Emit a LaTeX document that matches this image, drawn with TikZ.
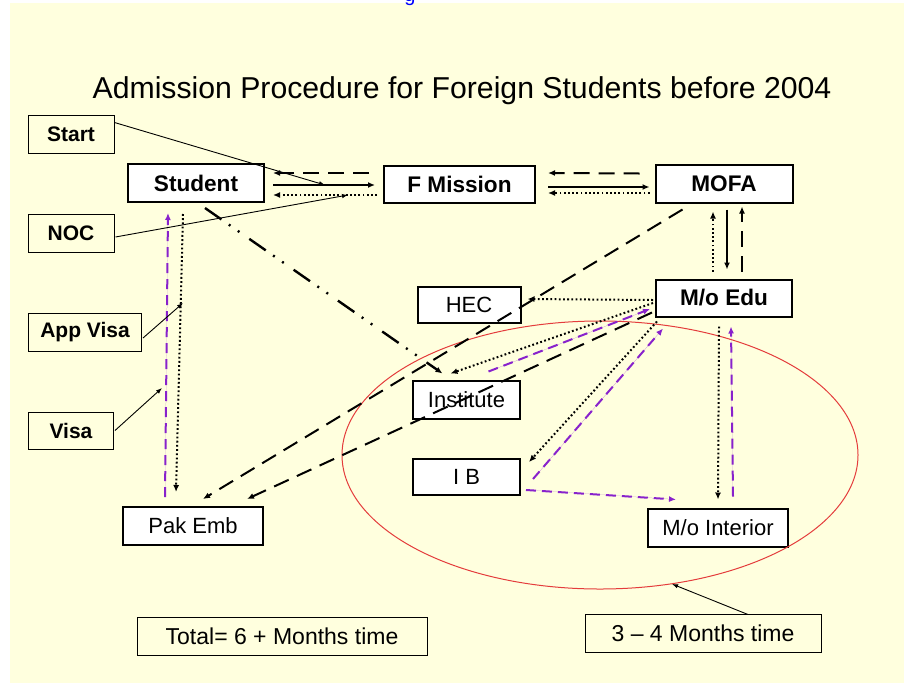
\documentclass[tikz,border=0pt]{standalone}
\usepackage{fontspec}
\setmainfont{Liberation Sans}
\usetikzlibrary{arrows.meta,calc}
\definecolor{bgyellow}{RGB}{255,255,222}
\definecolor{vpurple}{RGB}{136,34,204}
\definecolor{ered}{RGB}{228,60,60}
\definecolor{linkblue}{RGB}{0,0,255}
\begin{document}
\begin{tikzpicture}[x=1pt,y=-1pt,
  box/.style={draw, line width=2pt, fill=white, inner sep=0pt, font=\fontsize{22}{24}\selectfont},
  boxb/.style={box, font=\fontsize{22.6}{24}\selectfont\bfseries},
  tag/.style={draw, line width=1pt, inner sep=0pt, font=\fontsize{21}{24}\selectfont\bfseries},
  tagr/.style={draw, line width=1pt, inner sep=0pt, font=\fontsize{23}{24}\selectfont},
  tip/.style={-{Latex[length=7pt,width=6pt]}},
  thintip/.style={-{Latex[length=6pt,width=4.5pt]}},
  bsolid/.style={line width=1.6pt, tip},
  bdash/.style={line width=2pt, dash pattern=on 16pt off 9pt, tip},
  bdot/.style={line width=2pt, dash pattern=on 1.8pt off 2.4pt, tip},
  pdash/.style={draw=vpurple, line width=2pt, dash pattern=on 10pt off 6pt, -{Latex[length=7pt,width=6pt]}, fill=vpurple},
  ddot/.style={line width=2.4pt, dash pattern=on 20pt off 9pt on 2pt off 9pt on 2pt off 12pt, tip},
  pointer/.style={line width=0.9pt, thintip}
]
\useasboundingbox (0,0) rectangle (904,683);
\fill[white] (0,0) rectangle (904,683);
\fill[bgyellow] (10,3) rectangle (904,683);

% cut-off link text at the top
\begin{scope}
  \clip (380,0) rectangle (440,6);
  \node[anchor=south, inner sep=0pt, text=linkblue, font=\fontsize{20}{22}\selectfont] (glink) at (410,6) {g};
\end{scope}

\node (title) at (462,91) {\fontsize{30.2}{32}\selectfont Admission Procedure for Foreign Students before 2004};

% boxes
\node[tag, minimum width=86pt, minimum height=38pt] (start) at (71,134) {Start};
\node[boxb, minimum width=136pt, minimum height=38pt] (st) at (196,183) {Student};
\node[boxb, minimum width=151pt, minimum height=37pt] (fm) at (459.5,184) {F Mission};
\node[boxb, minimum width=137pt, minimum height=38pt] (mofa) at (724,183.5) {MOFA};
\node[tag, minimum width=86pt, minimum height=38pt] (noc) at (71,233) {NOC};
\node[box, minimum width=103pt, minimum height=36pt] (hec) at (469,305) {HEC};
\node[boxb, minimum width=136pt, minimum height=37pt] (moe) at (724,298) {M/o Edu};
\node[tag, minimum width=113pt, minimum height=38pt] (appvisa) at (85,332) {App Visa};
\node[box, minimum width=107pt, minimum height=38pt] (inst) at (466.5,399.5) {Institute};
\node[tag, minimum width=85pt, minimum height=37pt] (visa) at (71,430.5) {Visa};
\node[box, minimum width=107pt, minimum height=36pt] (ib) at (466.5,477) {I B};
\node[box, minimum width=140pt, minimum height=38pt] (pak) at (193,526) {Pak Emb};
\node[box, minimum width=140pt, minimum height=38pt] (moi) at (718,527.5) {M/o Interior};
\node[tagr, minimum width=290pt, minimum height=38pt] (total) at (282,636) {Total= 6 + Months time};
\node[tagr, minimum width=236pt, minimum height=38pt] (m34) at (703,633) {3 -- 4 Months time};

% the red ellipse
\draw[ered, line width=1pt] (600,455) ellipse [x radius=258pt, y radius=134pt];

% free ends of the pointer lines
\coordinate (startpt) at (325,185);
\coordinate (nocpt) at (348,195);
\coordinate (apppt) at (183,303);
\coordinate (visapt) at (162,388);
\coordinate (ellpt) at (672,584);

% Student <-> F Mission
\draw[bdash] ($(fm.west)+(-14,-11)$) -- ($(st.east)+(8,-10)$);
\draw[bsolid] ($(st.east)+(8,2)$) -- ($(fm.west)+(-8,1)$);
\draw[bdot] ($(fm.west)+(-6,11)$) -- ($(st.east)+(8,12)$);

% F Mission <-> MOFA
\draw[bdash] ($(mofa.west)+(-15,-10)$) -- ($(fm.east)+(12,-11)$);
\draw[bsolid] ($(fm.east)+(12,3)$) -- ($(mofa.west)+(-5,3.5)$);
\draw[bdot] ($(mofa.west)+(-5,9.5)$) -- ($(fm.east)+(12,9)$);

% MOFA <-> M/o Edu
\draw[bdot] ($(moe.north)+(-11,-7)$) -- ($(mofa.south)+(-11,8)$);
\draw[bsolid] ($(mofa.south)+(3,6)$) -- ($(moe.north)+(3,-9)$);
\draw[bdash] ($(moe.north)+(18,-7)$) -- ($(mofa.south)+(18,3)$);

% to Pak Emb
\draw[bdash] ($(mofa.south west)+(28,6)$) -- ($(pak.north)+(10,-7)$);
\draw[bdash] ($(moe.south west)+(-3,-5)$) -- ($(pak.north)+(54,-7)$);

% Student -> Institute
\draw[ddot] ($(st.south)+(9,5)$) -- ($(inst.north)+(-24,-6)$);

% from M/o Edu
\draw[bdot] ($(moe.west)+(-2,2)$) -- ($(hec.east)+(6,-6)$);
\draw[bdot] ($(moe.west)+(-2,5)$) -- ($(inst.north)+(-16,-6)$);
\draw[bdot] ($(moe.south west)+(2,4)$) -- ($(ib.north east)+(8,4)$);
\draw[bdot] ($(moe.south)+(-5,9)$) -- ($(moi.north)+(0,-8)$);

% purple returns
\draw[pdash] ($(inst.north)+(22,-8)$) -- ($(moe.west)+(-5,11)$);
\draw[pdash] ($(ib.east)+(12,2)$) -- ($(moe.south west)+(8,11)$);
\draw[pdash] ($(ib.south east)+(5,-6)$) -- ($(moi.north west)+(29,-8)$);
\draw[pdash] ($(moi.north)+(15,-11)$) -- ($(moe.south)+(7,9)$);

% Student <-> Pak Emb
\draw[pdash] ($(pak.north)+(-28,-9)$) -- ($(st.south)+(-28,10)$);
\draw[bdot] ($(st.south)+(-13,11)$) -- ($(pak.north)+(-17,-14)$);

% pointer lines
\draw[pointer] ($(start.north east)+(0,8)$) -- (startpt);
\draw[pointer] ($(noc.east)+(1,4)$) -- (nocpt);
\draw[pointer] ($(appvisa.east)+(1,6)$) -- (apppt);
\draw[pointer] ($(visa.east)+(1,0)$) -- (visapt);
\draw[pointer] ($(m34.north)+(45,1)$) -- (ellpt);
\end{tikzpicture}
\end{document}
